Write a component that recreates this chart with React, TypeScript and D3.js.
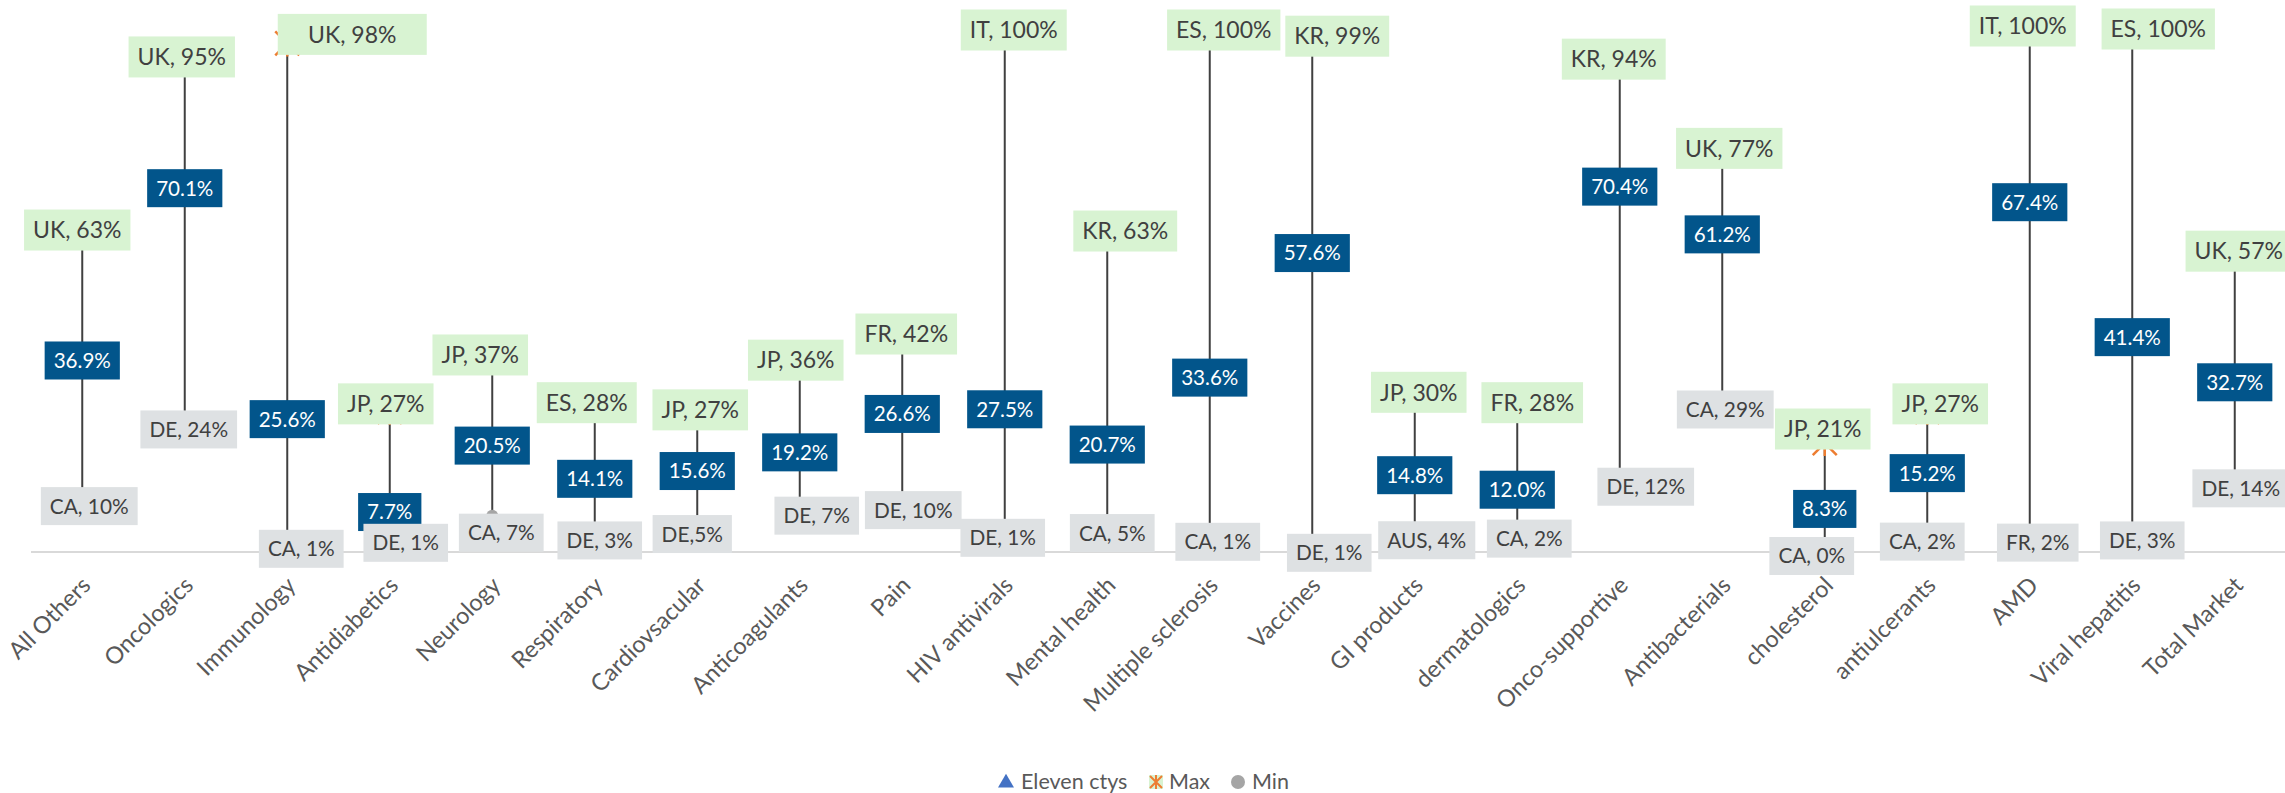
import React, { useRef, useEffect } from "react";
import * as d3 from "d3";

const categories = [
  "All Others", "Oncologics", "Immunology", "Antidiabetics", "Neurology", "Respiratory",
  "Cardiovsacular", "Anticoagulants", "Pain", "HIV antivirals", "Mental health",
  "Multiple sclerosis", "Vaccines", "GI products", "dermatologics", "Onco-supportive",
  "Antibacterials", "cholesterol", "antiulcerants", "AMD", "Viral hepatitis", "Total Market",
];
// "Eleven ctys" average
const meanValues = [36.9, 70.1, 25.6, 7.7, 20.5, 14.1, 15.6, 19.2, 26.6, 27.5, 20.7, 33.6, 57.6, 14.8, 12.0, 70.4, 61.2, 8.3, 15.2, 67.4, 41.4, 32.7];
const maxValues = [63, 95, 98, 27, 37, 28, 27, 36, 42, 100, 63, 100, 99, 30, 28, 94, 77, 21, 27, 100, 100, 57];
const maxLabels = [
  "UK, 63%", "UK, 95%", "UK, 98%", "JP, 27%", "JP, 37%", "ES, 28%", "JP, 27%", "JP, 36%",
  "FR, 42%", "IT, 100%", "KR, 63%", "ES, 100%", "KR, 99%", "JP, 30%", "FR, 28%", "KR, 94%",
  "UK, 77%", "JP, 21%", "JP, 27%", "IT, 100%", "ES, 100%", "UK, 57%",
];
const minValues = [10, 24, 1, 1, 7, 3, 5, 7, 10, 1, 5, 1, 1, 4, 2, 12, 29, 0, 2, 2, 3, 14];
const minLabels = [
  "CA, 10%", "DE, 24%", "CA, 1%", "DE, 1%", "CA, 7%", "DE, 3%", "DE,5%", "DE, 7%",
  "DE, 10%", "DE, 1%", "CA, 5%", "CA, 1%", "DE, 1%", "AUS, 4%", "CA, 2%", "DE, 12%",
  "CA, 29%", "CA, 0%", "CA, 2%", "FR, 2%", "DE, 3%", "DE, 14%",
];
const legendNames = ["Eleven ctys", "Max", "Min"];

// hand-moved data labels in the original (px offsets)
const maxNudge: [number, number][] = [
  [-5, 5], [-3, -2], [65, -9], [-4, -8], [-12, -5], [-8, -4], [3, -2], [-4, -5], [4, 0], [9, -3], [18, 6],
  [14, -3], [25, -2], [4, -4], [15, -4], [-6, -5], [7, -4], [-2, -14], [13, -8], [-7, -7], [26, -4], [4, -5],
];
const minNudge: [number, number][] = [
  [7, 6], [4, 2], [14, 2], [16, -4], [9, 17], [5, 4], [-5, 8], [17, 0], [11, 10], [-2, -9], [5, 7],
  [8, -5], [17, 6], [12, 9], [12, -3], [26, -3], [3, 8], [-13, 4], [-5, 0], [8, 1], [10, 4], [6, 9],
];
// one max label box was stretched wider by hand
const maxBoxWidth: (number | null)[] = categories.map((_, i) => (i === 2 ? 149 : null));

const width = 2285;
const height = 793;
const baseY = 552;
const font = "Lato, 'Open Sans', sans-serif";

const App: React.FC = () => {
  const svgRef = useRef<SVGSVGElement | null>(null);

  useEffect(() => {
    if (!svgRef.current) return;
    const svg = d3.select(svgRef.current);
    svg.selectAll("*").remove();

    const x = d3.scaleBand().domain(categories).range([31, 2286]);
    const cx = (i: number) => (x(categories[i]) as number) + x.bandwidth() / 2;
    const y = d3.scaleLinear().domain([0, 100]).range([baseY, 33]);

    // horizontal axis line
    svg.append("line")
      .attr("x1", 31).attr("x2", width)
      .attr("y1", baseY).attr("y2", baseY)
      .attr("stroke", "#d9d9d9").attr("stroke-width", 2);

    // high-low lines
    svg.append("g").selectAll("line")
      .data(categories)
      .join("line")
      .attr("x1", (_, i) => cx(i)).attr("x2", (_, i) => cx(i))
      .attr("y1", (_, i) => y(minValues[i])).attr("y2", (_, i) => y(maxValues[i]))
      .attr("stroke", "#404040").attr("stroke-width", 2);

    const tri = d3.symbol().type(d3.symbolTriangle).size(90);
    const star = "M-12,-12L12,12M-12,12L12,-12M0,-13L0,13";

    // markers
    svg.append("g").selectAll("path")
      .data(meanValues)
      .join("path")
      .attr("transform", (d, i) => `translate(${cx(i)},${y(d)})`)
      .attr("d", tri())
      .attr("fill", "#4472c4");
    svg.append("g").selectAll("path")
      .data(maxValues)
      .join("path")
      .attr("transform", (d, i) => `translate(${cx(i)},${y(d)})`)
      .attr("d", star)
      .attr("stroke", "#ed7d31").attr("stroke-width", 2.5).attr("fill", "none");
    svg.append("g").selectAll("circle")
      .data(minValues)
      .join("circle")
      .attr("cx", (_, i) => cx(i)).attr("cy", (d) => y(d))
      .attr("r", 6).attr("fill", "#a5a5a5");

    // boxed data labels
    const addLabels = (
      values: number[], texts: string[], nudge: [number, number][] | null,
      fill: string, color: string, size: number, boxH: number, pad: number,
      boxW: (number | null)[] | null,
    ) => {
      const g = svg.append("g");
      values.forEach((v, i) => {
        const [dx, dy] = nudge ? nudge[i] : [0, 0];
        const px = cx(i) + dx;
        const py = y(v) + dy;
        const rect = g.append("rect").attr("fill", fill);
        const t = g.append("text")
          .attr("x", px).attr("y", py).attr("dy", "0.36em")
          .attr("text-anchor", "middle")
          .style("font-family", font).style("font-size", `${size}px`)
          .attr("fill", color)
          .text(texts[i]);
        const fixed = boxW ? boxW[i] : null;
        const w = fixed ?? (t.node() as SVGTextElement).getComputedTextLength() + pad * 2;
        rect.attr("x", px - w / 2).attr("y", py - boxH / 2).attr("width", w).attr("height", boxH);
      });
    };

    addLabels(meanValues, meanValues.map((d) => `${d.toFixed(1)}%`), null, "#02558b", "#ffffff", 20.6, 38, 9, null);
    addLabels(maxValues, maxLabels, maxNudge, "#d8f3d2", "#404040", 23, 41, 9, maxBoxWidth);
    addLabels(minValues, minLabels, minNudge, "#dee1e3", "#404040", 20.8, 38, 9, null);

    // category labels
    svg.append("g").selectAll("text")
      .data(categories)
      .join("text")
      .attr("transform", (_, i) => `translate(${cx(i) + 4},${581}) rotate(-45)`)
      .attr("text-anchor", "end").attr("dy", "0.35em")
      .style("font-family", font).style("font-size", "23.5px")
      .attr("fill", "#595959")
      .text((d) => d);

    // legend
    const lg = svg.append("g").style("font-family", font).style("font-size", "21.5px").attr("fill", "#595959");
    const keyX = [1006, 1156, 1238];
    const textX = [1021, 1169, 1252];
    lg.append("path")
      .attr("transform", `translate(${keyX[0]},${783})`)
      .attr("d", d3.symbol().type(d3.symbolTriangle).size(110)())
      .attr("fill", "#4472c4");
    lg.append("rect").attr("x", keyX[1] - 7).attr("y", 775).attr("width", 14).attr("height", 14).attr("fill", "#d8f3d2");
    lg.append("path")
      .attr("transform", `translate(${keyX[1]},${782})`)
      .attr("d", "M-6,-6L6,6M-6,6L6,-6M0,-7L0,7")
      .attr("stroke", "#ed7d31").attr("stroke-width", 2);
    lg.append("circle").attr("cx", keyX[2]).attr("cy", 782).attr("r", 7).attr("fill", "#a5a5a5");
    legendNames.forEach((n, i) => {
      lg.append("text").attr("x", textX[i]).attr("y", 789).text(n);
    });
  }, []);

  return (
    <svg
      ref={svgRef}
      width={width}
      height={height}
      style={{ position: "absolute", left: 0, top: 0, background: "#ffffff" }}
    />
  );
};

export default App;
